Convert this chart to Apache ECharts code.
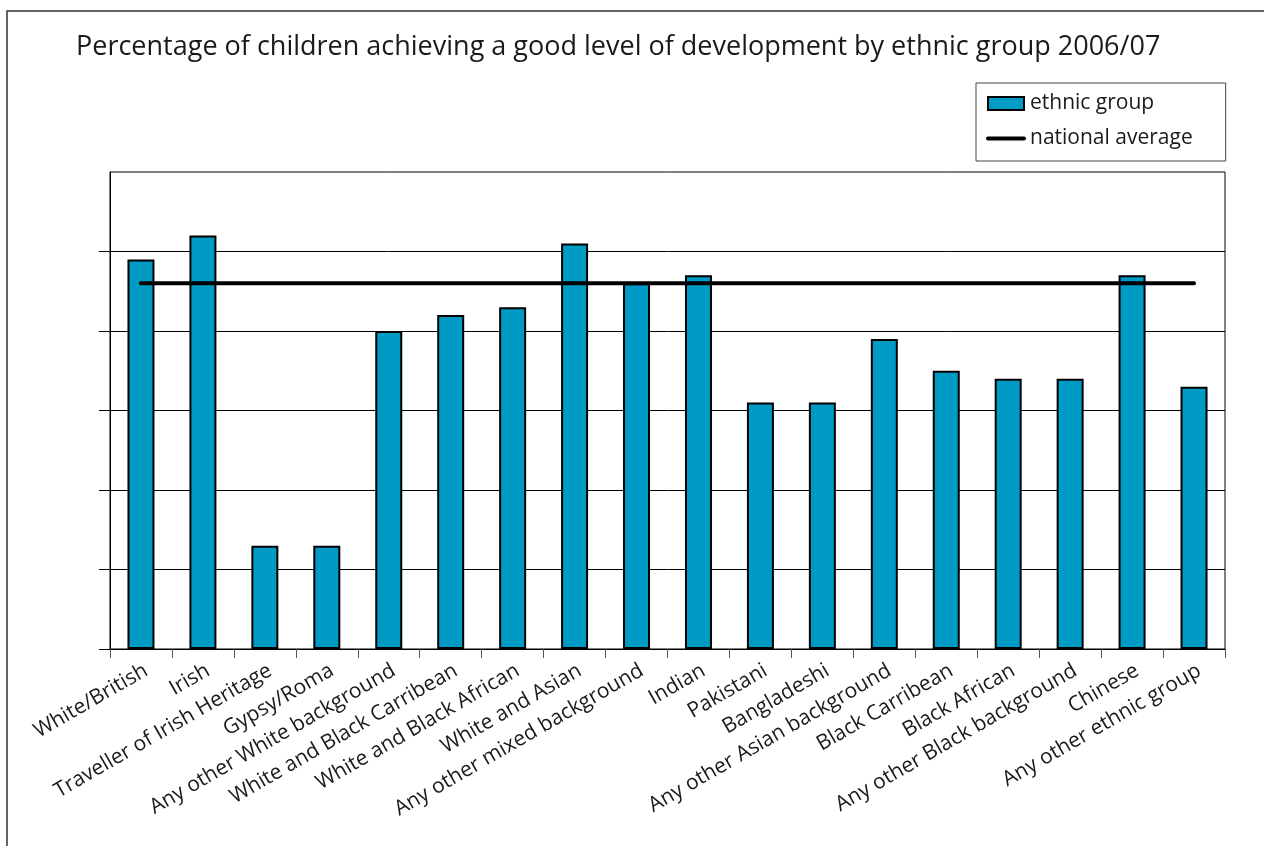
<!DOCTYPE html>
<html>
<head>
<meta charset="utf-8">
<script src="https://cdn.jsdelivr.net/npm/echarts@6/dist/echarts.min.js"></script>
<style>
html,body{margin:0;padding:0;background:#fff;}
#chart{width:1264px;height:846px;}
</style>
</head>
<body>
<div id="chart"></div>
<script>
const categories = [
  'White/British', 'Irish', 'Traveller of Irish Heritage', 'Gypsy/Roma',
  'Any other White background', 'White and Black Carribean', 'White and Black African',
  'White and Asian', 'Any other mixed background', 'Indian', 'Pakistani', 'Bangladeshi',
  'Any other Asian background', 'Black Carribean', 'Black African',
  'Any other Black background', 'Chinese', 'Any other ethnic group'
];
const ethnicGroup = [49, 52, 13, 13, 40, 42, 43, 51, 46, 47, 31, 31, 39, 35, 34, 34, 47, 33];
const nationalAverage = [46, 46, 46, 46, 46, 46, 46, 46, 46, 46, 46, 46, 46, 46, 46, 46, 46, 46];
const yTicks = [0, 10, 20, 30, 40, 50, 60];
const yTickMarks = [0, 10, 20, 30, 40, 50];

const FONT = 'Open Sans';
const chart = echarts.init(document.getElementById('chart'), null, {renderer: 'canvas'});
chart.setOption({
  backgroundColor: '#fff',
  animation: false,
  graphic: [{
    type: 'rect', z: 0,
    shape: {x: 7, y: 11, width: 1400, height: 1000},
    style: {fill: 'none', stroke: '#333', lineWidth: 1.5}
  }],
  title: {
    text: 'Percentage of children achieving a good level of development by ethnic group 2006/07',
    left: 76, top: 34, padding: 0,
    textStyle: {fontFamily: FONT, fontSize: 27, fontWeight: 'normal', color: '#1a1a1a'}
  },
  legend: {
    orient: 'vertical',
    left: 976, top: 83,
    padding: [10, 33, 12, 10],
    itemGap: 14,
    itemWidth: 36, itemHeight: 13,
    borderColor: '#444', borderWidth: 1,
    textStyle: {fontFamily: FONT, fontSize: 21, color: '#1a1a1a', lineHeight: 20, padding: [0, 0, 0, 1]},
    data: [
      {name: 'ethnic group', icon: 'rect'},
      {name: 'national average', itemStyle: {opacity: 0}, lineStyle: {width: 4, color: '#000', cap: 'round'}}
    ]
  },
  grid: {
    left: 110, right: 39, top: 172, bottom: 197,
    show: true, borderColor: '#000', borderWidth: 1, containLabel: false
  },
  xAxis: {
    type: 'category',
    data: categories,
    boundaryGap: true,
    axisLine: {lineStyle: {color: '#000', width: 1}},
    axisTick: {show: true, length: 9, lineStyle: {color: '#555'}},
    axisLabel: {
      interval: 0, rotate: 30, margin: 11, verticalAlign: 'top',
      fontFamily: FONT, fontSize: 21, color: '#1a1a1a'
    }
  },
  yAxis: {
    type: 'value',
    min: yTicks[0], max: yTicks[yTicks.length - 1], interval: 10,
    axisLine: {show: true, lineStyle: {color: '#000', width: 1}},
    axisTick: {show: true, inside: false, length: 11, customValues: yTickMarks, lineStyle: {color: '#000'}},
    axisLabel: {show: false},
    splitLine: {show: true, lineStyle: {color: '#000', width: 1}}
  },
  series: [
    {
      name: 'ethnic group',
      type: 'bar',
      data: ethnicGroup,
      barWidth: 27,
      itemStyle: {color: '#009BC4', borderColor: '#000', borderWidth: 2},
      z: 2
    },
    {
      name: 'national average',
      type: 'line',
      data: nationalAverage,
      symbol: 'none',
      lineStyle: {color: '#000', width: 4, cap: 'round'},
      itemStyle: {color: 'rgba(0,0,0,0)'},
      z: 3
    }
  ]
});
</script>
</body>
</html>
